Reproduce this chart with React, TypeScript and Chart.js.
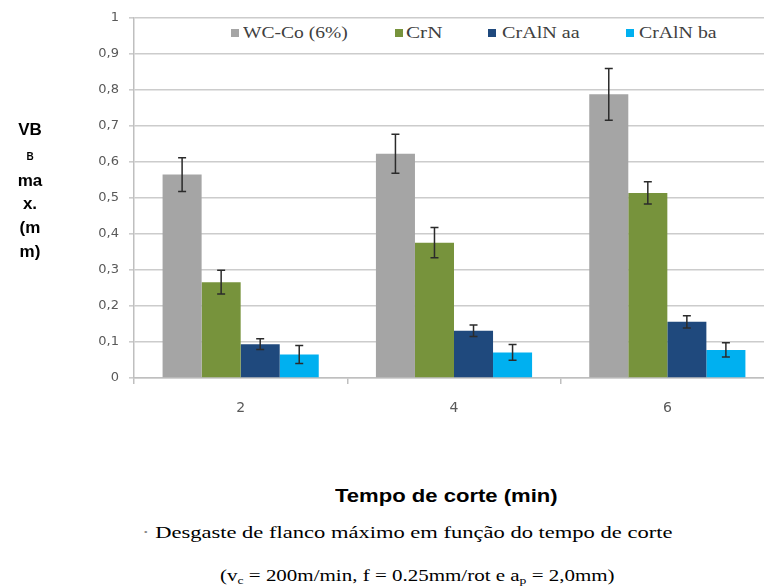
import React, { useEffect, useLayoutEffect, useRef } from 'react';
import { Chart, registerables } from 'chart.js';

Chart.register(...registerables);

// ---- data ----
const categories = ['2', '4', '6'];
const seriesNames = ['WC-Co (6%)', 'CrN', 'CrAlN aa', 'CrAlN ba'];
const seriesColors = ['#A5A5A5', '#77933C', '#1F497D', '#00B0F0'];
const wcCo = [0.565, 0.623, 0.788];
const wcCoErr = [0.047, 0.054, 0.072];
const crN = [0.266, 0.376, 0.514];
const crNErr = [0.033, 0.042, 0.031];
const crAlNaa = [0.094, 0.131, 0.156];
const crAlNaaErr = [0.015, 0.016, 0.017];
const crAlNba = [0.065, 0.071, 0.078];
const crAlNbaErr = [0.025, 0.022, 0.02];
const yMin = 0;
const yMax = 1;
const yStep = 0.1;

const seriesValues = [wcCo, crN, crAlNaa, crAlNba];
const seriesErrors = [wcCoErr, crNErr, crAlNaaErr, crAlNbaErr];

const errorBarPlugin = {
  id: 'errorBars',
  afterDatasetsDraw(chart: any) {
    const ctx = chart.ctx;
    const y = chart.scales.y;
    chart.data.datasets.forEach((ds: any, i: number) => {
      const meta = chart.getDatasetMeta(i);
      const errs = seriesErrors[i];
      meta.data.forEach((bar: any, j: number) => {
        const v = ds.data[j];
        const e = errs[j];
        const yt = y.getPixelForValue(v + e);
        const yb = y.getPixelForValue(v - e);
        const x = bar.x;
        ctx.save();
        ctx.strokeStyle = '#2b2b2b';
        ctx.lineWidth = 1.5;
        ctx.beginPath();
        ctx.moveTo(x, yt);
        ctx.lineTo(x, yb);
        ctx.moveTo(x - 4, yt);
        ctx.lineTo(x + 4, yt);
        ctx.moveTo(x - 4, yb);
        ctx.lineTo(x + 4, yb);
        ctx.stroke();
        ctx.restore();
      });
    });
  },
};

function Stretch({ left, right, cy, style, children }: any) {
  const ref = useRef<HTMLDivElement>(null);
  useLayoutEffect(() => {
    const el = ref.current;
    if (!el) return;
    el.style.transform = 'none';
    const w = el.offsetWidth;
    const h = el.offsetHeight;
    el.style.left = left + 'px';
    el.style.top = cy - h / 2 + 'px';
    el.style.transform = `scaleX(${(right - left) / w})`;
  }, [left, right, cy]);
  return (
    <div
      ref={ref}
      style={{
        position: 'absolute',
        whiteSpace: 'nowrap',
        transformOrigin: '0 50%',
        lineHeight: 1.15,
        ...style,
      }}
    >
      {children}
    </div>
  );
}

const serif = '"Liberation Serif", "Times New Roman", serif';
const sans = '"Liberation Sans", Arial, sans-serif';
const subStyle: any = { fontSize: '0.65em', position: 'relative', top: 3, color: '#000' };

export default function App() {
  const canvasRef = useRef<HTMLCanvasElement>(null);

  useEffect(() => {
    document.body.style.margin = '0';
    const canvas = canvasRef.current;
    if (!canvas) return;
    const chart = new Chart(canvas, {
      type: 'bar',
      data: {
        labels: categories,
        datasets: seriesNames.map((name, i) => ({
          label: name,
          data: seriesValues[i],
          backgroundColor: seriesColors[i],
          borderWidth: 0,
          barPercentage: 1,
          categoryPercentage: 0.732,
        })),
      },
      options: {
        responsive: false,
        animation: false,
        devicePixelRatio: 1,
        layout: { padding: { top: 18, left: 0, right: 0, bottom: 0 } },
        plugins: { legend: { display: false }, tooltip: { enabled: false } },
        scales: {
          x: {
            grid: {
              display: true,
              drawOnChartArea: false,
              drawTicks: true,
              tickLength: 6,
              color: '#bfbfbf',
              lineWidth: 1.5,
              offset: true,
            },
            border: { display: true, color: '#bfbfbf', width: 1.5 },
            ticks: {
              color: '#595959',
              font: { family: 'DejaVu Sans', size: 14 },
              padding: 16,
            },
            afterFit: (s: any) => {
              s.height = 62;
            },
          },
          y: {
            min: yMin,
            max: yMax,
            ticks: {
              stepSize: yStep,
              color: '#595959',
              font: { family: 'DejaVu Sans', size: 13 },
              padding: 10,
              callback: (v: any) => {
                const n = Number(v);
                if (n === 0 || n === 1) return String(n);
                return n.toFixed(1).replace('.', ',');
              },
            },
            grid: {
              color: '#cccccc',
              lineWidth: 1.6,
              tickLength: 5,
              drawTicks: true,
            },
            border: { display: true, color: '#bfbfbf', width: 1.5 },
            afterFit: (s: any) => {
              s.width = 134;
            },
          },
        },
      },
      plugins: [errorBarPlugin],
    } as any);
    return () => chart.destroy();
  }, []);

  const legendItems = [
    { sq: 231, l: 243, r: 348 },
    { sq: 395, l: 406, r: 443 },
    { sq: 488, l: 502, r: 580 },
    { sq: 626, l: 639, r: 717 },
  ];

  const yTitle = [
    { t: 'VB', y: 130, s: 17 },
    { t: 'B', y: 157, s: 10 },
    { t: 'ma', y: 181, s: 17 },
    { t: 'x.', y: 204, s: 17 },
    { t: '(m', y: 228, s: 17 },
    { t: 'm)', y: 252, s: 17 },
  ];

  return (
    <div
      style={{
        position: 'absolute',
        left: 0,
        top: 0,
        width: 764,
        height: 587,
        overflow: 'hidden',
        background: '#fff',
      }}
    >
      <canvas
        ref={canvasRef}
        width={774}
        height={440}
        style={{ position: 'absolute', left: 0, top: 0, width: 774, height: 440 }}
      />
      {/* legend */}
      <div
        style={{
          position: 'absolute',
          left: 150,
          top: 19,
          width: 614,
          height: 32,
          background: '#fff',
        }}
      />
      {legendItems.map((it, i) => (
        <React.Fragment key={i}>
          <div
            style={{
              position: 'absolute',
              left: it.sq,
              top: 29,
              width: 8,
              height: 8,
              background: seriesColors[i],
            }}
          />
          <Stretch left={it.l} right={it.r} cy={33} style={{ fontFamily: serif, fontSize: 16, color: '#404040' }}>
            {seriesNames[i]}
          </Stretch>
        </React.Fragment>
      ))}
      {/* y title */}
      {yTitle.map((l, i) => (
        <div
          key={i}
          style={{
            position: 'absolute',
            left: 0,
            width: 60,
            top: l.y - l.s * 0.6,
            height: l.s * 1.2,
            lineHeight: l.s * 1.2 + 'px',
            textAlign: 'center',
            fontFamily: sans,
            fontWeight: 'bold',
            fontSize: l.s,
            color: '#000',
          }}
        >
          {l.t}
        </div>
      ))}
      {/* x title */}
      <Stretch left={335} right={558} cy={496} style={{ fontFamily: sans, fontWeight: 'bold', fontSize: 18, color: '#000' }}>
        Tempo de corte (min)
      </Stretch>
      <Stretch left={142} right={672} cy={533} style={{ fontFamily: serif, fontSize: 17, color: '#000' }}>
        <span style={{ color: '#888' }}>·</span> Desgaste de flanco máximo em função do tempo de corte
      </Stretch>
      <Stretch left={220} right={615} cy={576} style={{ fontFamily: serif, fontSize: 17, color: '#000' }}>
        (v<span style={subStyle}>c</span> = 200m/min, f = 0.25mm/rot e a<span style={subStyle}>p</span> = 2,0mm)
      </Stretch>
    </div>
  );
}
